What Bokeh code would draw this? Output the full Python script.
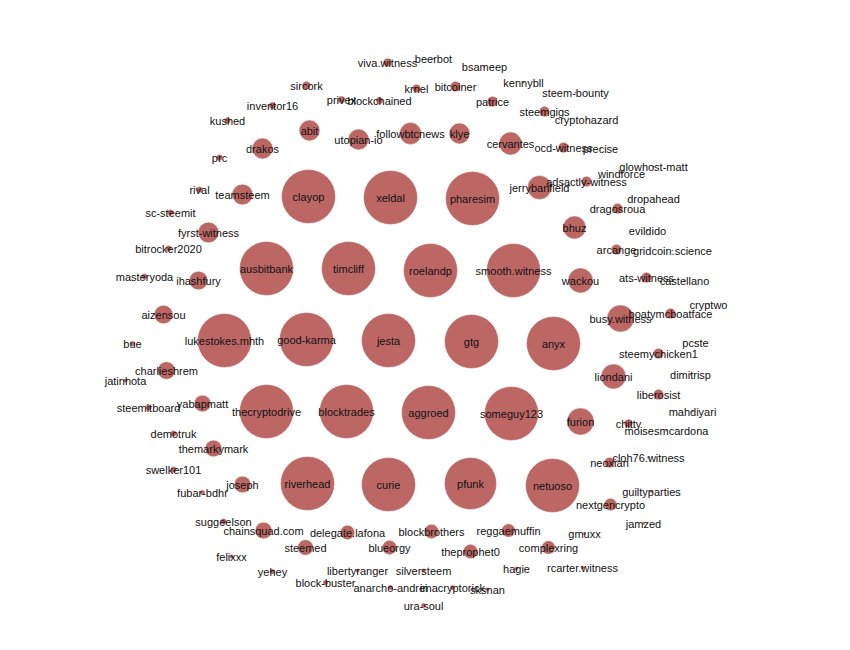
import math
from bokeh.plotting import figure
from bokeh.models import ColumnDataSource, Range1d
from bokeh.core.properties import value
from bokeh.embed import file_html
from bokeh.resources import INLINE

# witness names, layout coordinates, and weights (relative vote weight)
names = [
    "clayop", "xeldal", "pharesim", "ausbitbank", "timcliff", "roelandp", "smooth.witness",
    "lukestokes.mhth", "good-karma", "jesta", "gtg", "anyx",
    "thecryptodrive", "blocktrades", "aggroed", "someguy123",
    "riverhead", "curie", "pfunk", "netuoso",
    "abit", "drakos", "teamsteem", "fyrst-witness", "utopian-io", "followbtcnews", "klye",
    "cervantes", "jerrybanfield", "bhuz", "wackou", "busy.witness", "liondani", "furion",
    "ihashfury", "aizensou", "charlieshrem", "yabapmatt", "themarkymark", "joseph",
    "chainsquad.com", "steemed", "delegate.lafona", "blueorgy", "blockbrothers", "theprophet0",
    "reggaemuffin", "complexring", "nextgencrypto",
    "sircork", "privex", "inventor16", "kushed", "prc", "rival", "sc-steemit", "bitrocker2020",
    "masteryoda", "bue", "jatinhota", "steemitboard", "demotruk", "swelker101", "fubar-bdhr",
    "suggeelson", "felixxx", "yehey", "block-buster", "libertyranger", "anarcho-andrei",
    "silversteem", "ura-soul", "imacryptorick", "sksnan", "hagie", "rcarter.witness", "gmuxx",
    "jamzed", "guiltyparties", "cloh76.witness", "neoxian", "moisesmcardona", "chitty",
    "mahdiyari", "liberosist", "dimitrisp", "steemychicken1", "pcste", "boatymcboatface",
    "cryptwo", "ats-witness", "castellano", "arcange", "gridcoin.science", "evildido",
    "dragosroua", "dropahead", "adsactly-witness", "windforce", "glowhost-matt", "ocd-witness",
    "precise", "steemgigs", "cryptohazard", "patrice", "steem-bounty", "kennybll", "bitcoiner",
    "krnel", "blockchained", "bsameep", "beerbot", "viva.witness",
]

xs = [
    308, 390, 472, 266, 348, 430, 513,
    224, 306, 388, 471, 553,
    266, 346, 428, 511,
    307, 388, 470, 552,
    309, 262, 242, 208, 358, 410, 459,
    510, 539, 574, 580, 620, 613, 580,
    198, 163, 166, 202, 213, 242,
    263, 305, 347, 389, 431, 470,
    508, 548, 610,
    306, 341, 272, 227, 219, 199, 170, 168,
    144, 132, 125, 148, 173, 173, 202,
    223, 231, 272, 325, 357, 390,
    423, 423, 452, 487, 516, 582, 584,
    643, 651, 648, 609, 666, 628,
    692, 658, 690, 658, 695, 670,
    708, 646, 684, 616, 672, 647,
    617, 653, 586, 621, 653, 563,
    600, 544, 586, 492, 575, 523, 455,
    416, 379, 484, 433, 387,
]

ys = [
    196, 197, 198, 268, 268, 270, 270,
    340, 339, 340, 341, 343,
    411, 411, 412, 413,
    483, 484, 483, 485,
    130, 148, 194, 232, 139, 133, 133,
    143, 187, 227, 280, 318, 376, 421,
    280, 314, 370, 403, 448, 484,
    530, 547, 532, 547, 531, 551,
    530, 547, 504,
    85, 99, 105, 120, 157, 189, 212, 248,
    276, 343, 380, 407, 433, 469, 492,
    521, 556, 571, 582, 570, 587,
    570, 605, 587, 589, 568, 567, 533,
    523, 491, 457, 462, 430, 423,
    411, 394, 374, 353, 342, 313,
    304, 277, 280, 249, 250, 230,
    208, 198, 181, 173, 166, 147,
    148, 111, 119, 101, 92, 82, 86,
    88, 100, 66, 58, 62,
]

weights = [
    100, 100, 100, 100, 100, 100, 100,
    100, 100, 100, 100, 100,
    100, 100, 100, 100,
    100, 100, 93, 100,
    14.8, 14.8, 14.8, 14.8, 14.8, 16.3, 14.8,
    17.9, 19.6, 17.9, 21.3, 25.0, 21.3, 25.0,
    12.0, 12.0, 10.7, 9.5, 9.5, 9.5,
    9.5, 8.3, 7.2, 7.2, 7.2, 7.2,
    6.2, 6.2, 5.3,
    2.4, 1.8, 1.8, 1.33, 1.33, 1.33, 1.33, 1.33,
    1.33, 0.92, 0.6, 1.33, 1.33, 1.33, 0.92,
    1.33, 0.6, 0.92, 0.92, 0.6, 0.92,
    0.6, 0.92, 0.92, 0.6, 0.6, 0.6, 0.33,
    0.33, 0.33, 0.33, 3.7, 0.15, 2.4,
    0.15, 3.7, 0.15, 3.7, 0.15, 3.7,
    0.15, 3.7, 0.15, 3.7, 0.15, 0.15,
    3.7, 0.15, 3.7, 0.15, 0.15, 3.7,
    0.15, 3.7, 0.15, 3.7, 0.15, 0.15, 3.7,
    2.4, 1.8, 0.15, 0.15, 2.4,
]

diam = [2 * 27 * math.sqrt(w / 100.0) for w in weights]

src = ColumnDataSource(data=dict(name=names, x=xs, y=ys, d=diam))

p = figure(width=834, height=634, output_backend="svg", toolbar_location=None,
           x_range=Range1d(0, 834), y_range=Range1d(634, 0),
           min_border=0, outline_line_color=None, background_fill_color="white",
           border_fill_color="white")
p.axis.visible = False
p.grid.visible = False

p.scatter(x="x", y="y", size="d", source=src, marker="circle",
          fill_color="#bd6765", fill_alpha=1.0,
          line_color="white", line_alpha=0.5, line_width=0.8)

p.text(x="x", y="y", text="name", source=src,
       text_font=value("Liberation Sans"), text_font_size="11px",
       text_color="#111111", text_align="center", text_baseline="middle")

open("out.html", "w").write(file_html(p, INLINE))
